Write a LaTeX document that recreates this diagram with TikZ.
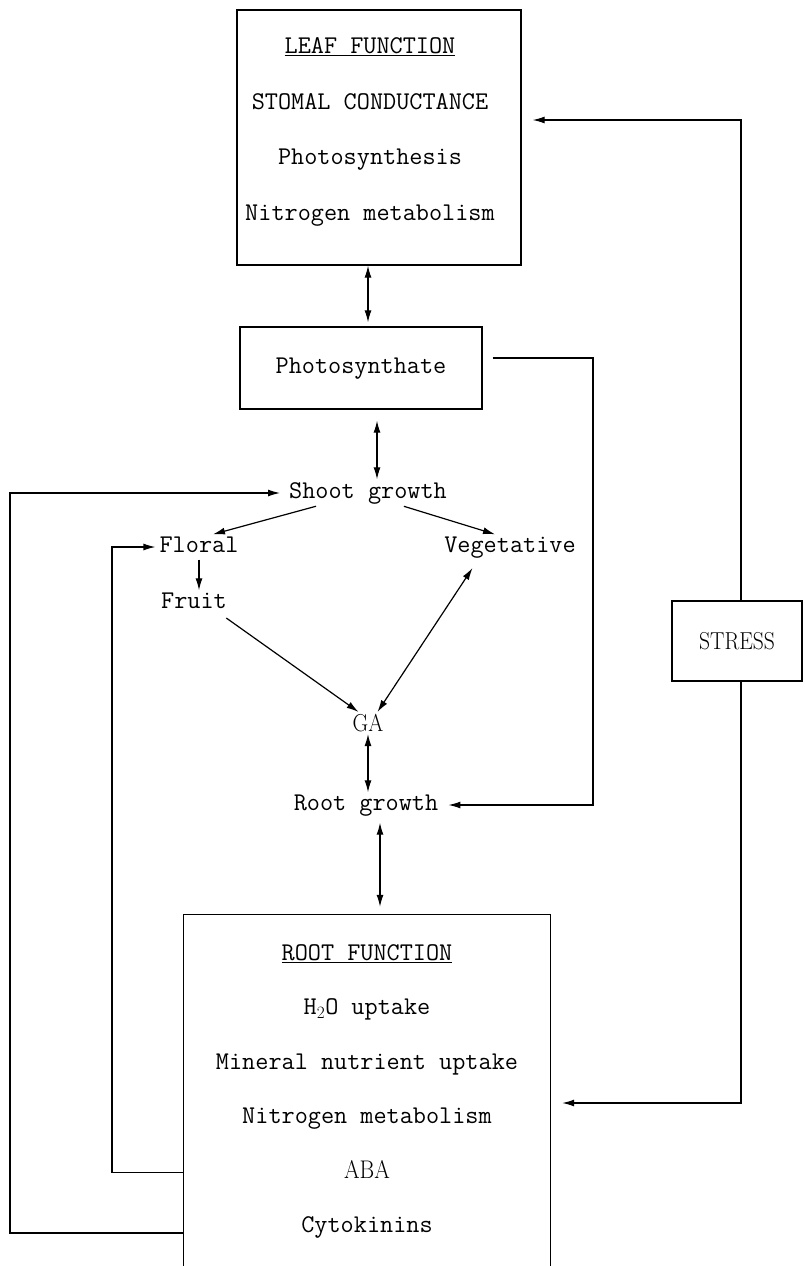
\documentclass[tikz,border=0pt]{standalone}
\usepackage{graphicx}
\usetikzlibrary{arrows.meta}

\def\tip{Latex[length=12pt,width=7pt]}
\newcommand{\narrowcaps}[1]{{\rmfamily\scalebox{0.88}[1]{#1}}}
\tikzset{
  box/.style={draw, line width=1.3pt, inner sep=0pt},
  txt/.style={font=\fontsize{25.5}{30}\selectfont\ttfamily, inner sep=2pt, text height=16pt, text depth=5pt},
  caps/.style={font=\fontsize{24.5}{28}\selectfont\rmfamily, inner sep=2pt}
  }
\tikzstyle{wire} = [draw, line width=1.3pt]
\tikzstyle{link} = [draw, line width=1.2pt, -{\tip}]
\tikzstyle{both} = [draw, line width=1.2pt, {\tip}-{\tip}]

\begin{document}
\begin{tikzpicture}[x=1pt, y=-1pt]
  \useasboundingbox (0,0) rectangle (804,1266);

  \node[box, minimum width=284pt, minimum height=255pt] (leaf) at (379,137.5) {};
  \node[box, txt, minimum width=242pt, minimum height=82pt] (photo) at (361,368) {Photosynthate};
  \node[box, caps, minimum width=130pt, minimum height=80pt] (stress) at (737,641) {\narrowcaps{STRESS}};
  \node[inner sep=0pt, minimum width=366pt, minimum height=352pt] (root) at (367,1091) {};
  \draw[wire] (root.south west) |- (root.north east) -- (root.south east);

  \foreach \txt [count=\i] in {\underline{LEAF FUNCTION}, STOMAL CONDUCTANCE, Photosynthesis, Nitrogen metabolism} {
    \node[txt] (lf\i) at (370, 48+55.7*\i-55.7) {\txt};
  }
  \foreach \txt [count=\i] in {\underline{ROOT FUNCTION}, H$_2$O uptake, Mineral nutrient uptake, Nitrogen metabolism, {\narrowcaps{ABA}}, Cytokinins} {
    \node[txt] (rf\i) at (367, 955+54.4*\i-54.4) {\txt};
  }

  \node[txt] (shoot) at (368,493) {Shoot growth};
  \node[txt] (floral) at (199,547) {Floral};
  \node[txt] (veg) at (510,547) {Vegetative};
  \node[txt] (fruit) at (194,603) {Fruit};
  \node[caps] (ga) at (368,723) {\narrowcaps{GA}};
  \node[txt] (rootg) at (366,805) {Root growth};

  \coordinate (outerx) at (10,0);
  \coordinate (innerx) at (112,0);
  \coordinate (feedx) at (593,0);
  \coordinate (cytoline) at ([yshift=-6pt]rf6.west);

  \path[both, shorten >=4pt] (shoot |- leaf.south) -- (shoot |- photo.north);
  \path[both, shorten >=1pt] ([xshift=16pt,yshift=-11pt]photo.south) -- ([xshift=9pt]shoot.north);
  \path[link, shorten <=2pt] ([xshift=-50pt]shoot.south) -- ([xshift=14pt]floral.north);
  \path[link, shorten <=2pt] ([xshift=34pt]shoot.south) -- ([xshift=-15pt]veg.north);
  \path[link] (floral.south) -- (floral.south |- fruit.north);
  \path[link, shorten <=4pt] ([xshift=-6pt]fruit.south east) -- ([xshift=8pt]ga.north west);
  \path[both, shorten <=10pt] ([xshift=-32pt]veg.south) -- ([xshift=-8pt]ga.north east);
  \path[both] (ga.south) -- (ga.south |- rootg.north);
  \path[both, shorten <=5pt, shorten >=8pt] ([xshift=14pt]rootg.south) -- ([xshift=13pt]root.north);

  \path[link, shorten >=8pt] ([xshift=10pt,yshift=10pt]photo.east) -| (feedx |- rootg) -- (rootg.east);
  \path[link, shorten >=11pt] ([xshift=4pt]stress.north) |- ([yshift=17.5pt]leaf.east);
  \path[link, shorten >=12pt] ([xshift=4pt]stress.south) |- ([yshift=-12pt]root.east);
  \path[link, shorten >=2pt] (root.west |- rf5) -- (innerx |- rf5) |- (floral.west);
  \path[link, shorten >=7pt] (root.west |- cytoline) -- (outerx |- cytoline) |- (shoot.west);
\end{tikzpicture}
\end{document}
